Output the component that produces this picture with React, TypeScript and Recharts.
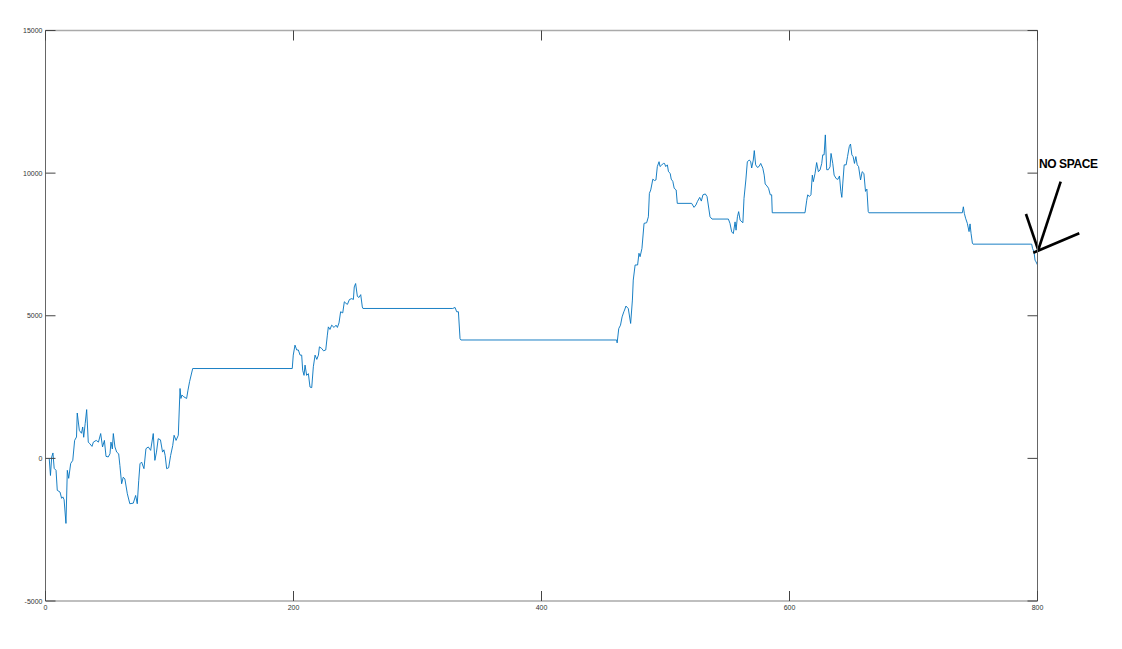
import { LineChart, Line, XAxis, YAxis, ReferenceLine, ReferenceDot } from 'recharts';

const xTicks = [0, 200, 400, 600, 800];
const yTicks = [-5000, 0, 5000, 10000, 15000];

// [step, value]
const series: [number, number][] = [
  [3, 0], [4, -600], [5, 50], [6, 190], [7, -350], [8.5, -420], [9.5, -1120], [11.7, -1180],
  [13, -1400], [14, -1350], [15, -1450], [16.5, -2280], [17.6, -420], [18.7, -700], [20.3, -180],
  [22, -70], [23.5, 630], [25, 750], [25.6, 1590], [27.3, 980], [29, 880], [30, 1100], [30.8, 740],
  [32, 1220], [33.2, 1710], [34.5, 570], [35.8, 510], [37.5, 420], [38.6, 570], [40.9, 630],
  [42.7, 570], [44.5, 870], [46, 400], [47.5, 630], [48.8, 70], [50.6, 50], [52, 160], [52.8, 570],
  [53.9, 330], [54.7, 870], [56, 400], [57.4, 220], [59, 160], [60, -250], [61.4, -890],
  [62.7, -660], [64, -720], [66, -1240], [68, -1590], [70.8, -1570], [72.7, -1300], [74, -1590],
  [75.2, -770], [76.2, -190], [77.5, -130], [79.4, -360], [81, 340], [82.9, 400], [84.8, 280],
  [86.9, 870], [88.2, -70], [89.5, 220], [90.9, 690], [92.7, 650], [94.4, 220], [95.5, 300],
  [96.5, 100], [97.7, -360], [99.3, -330], [100.9, 100], [102.6, 450], [103.7, 810], [105.3, 630],
  [107.1, 810], [108.5, 2450], [109.2, 2100], [110, 2220], [111.5, 2160], [113.8, 2100],
  [114.9, 2390], [116.2, 2690], [118.7, 3150], [199, 3150], [199.8, 3620], [201.2, 3970],
  [202.6, 3800], [203.9, 3800], [205.3, 3620], [206.6, 3620], [207.4, 3090], [208.5, 2910],
  [209.3, 3270], [210.6, 2910], [212, 2970], [213.3, 2500], [214.7, 2480], [216, 3210],
  [217.4, 3620], [218.8, 3470], [220.1, 3620], [220.9, 3910], [222.8, 3850], [224.2, 3770],
  [226, 3800], [227.3, 4320], [228.1, 4610], [229.4, 4520], [230.8, 4670], [232.7, 4590],
  [234.3, 4670], [235.4, 4590], [236.7, 4750], [238, 5140], [239.7, 5100], [241, 5490],
  [242.4, 5430], [243.5, 5400], [245.1, 5570], [247, 5600], [248.3, 5570], [249, 6010],
  [250.1, 6130], [251.5, 5680], [252.8, 5640], [254.2, 5740], [255.5, 5310], [256, 5255],
  [328.4, 5255], [330.3, 5290], [331.6, 5140], [333, 5140], [334.3, 4200], [335, 4150],
  [460.6, 4150], [461, 4050], [462.3, 4550], [463.7, 4670], [465, 4960], [466.4, 5140],
  [467, 5200], [468.1, 5340], [470, 5250], [471.9, 4730], [473.3, 5550], [474, 6250],
  [475.5, 6780], [477.5, 6780], [478.6, 7190], [479.5, 7070], [481, 7360], [482.7, 8240],
  [484.8, 8260], [486.2, 8470], [487, 9290], [488.1, 9410], [489.8, 9790], [491.1, 9740],
  [492.3, 9760], [493.4, 10230], [494.8, 10400], [495.6, 10230], [497, 10290], [498.4, 10340],
  [499.2, 10340], [500.2, 10230], [501.5, 10290], [502.4, 10050], [503.8, 9990], [504.6, 9790],
  [505.9, 9710], [507, 9470], [508.6, 9410], [509.5, 8940], [521.1, 8940], [523, 8800],
  [524.5, 8880], [525.7, 9000], [527.6, 9150], [528.9, 9020], [530.2, 9240], [532.1, 9270],
  [533.5, 9180], [535.9, 8470], [537.5, 8390], [550.7, 8390], [552, 8240], [553.4, 7940],
  [554.7, 7880], [556.1, 8290], [556.9, 8000], [558, 8470], [559, 8650], [560.2, 8350],
  [562.4, 8260], [563.3, 9110], [564.8, 9760], [566, 10400], [567.6, 10460], [568.7, 10400],
  [569.5, 10180], [570.8, 10460], [571.6, 10790], [572.7, 10290], [574.1, 10200], [575.4, 10230],
  [576.8, 10340], [578.5, 10170], [579.6, 9930], [580.4, 9620], [581.8, 9550], [583.1, 9470],
  [584.5, 9240], [585.6, 9240], [586.1, 8610], [612.5, 8610], [613.9, 9050], [614.7, 9240],
  [616, 9180], [617.3, 9240], [618.4, 9930], [619.2, 9700], [620.6, 9990], [621.9, 10370],
  [623.3, 10050], [624.6, 10110], [626, 10340], [626.8, 10640], [627.9, 10640], [628.9, 11340],
  [630, 10120], [631.3, 10120], [632.7, 10220], [633.5, 10690], [634.9, 10340], [636, 9930],
  [637.6, 9810], [639, 9780], [640.3, 9900], [641.4, 9360], [642.2, 9150], [643, 9650],
  [644.1, 10290], [645.7, 10290], [646.8, 10580], [648.2, 10930], [649.2, 11020], [650.3, 10640],
  [651.3, 10580], [652.4, 10340], [653.5, 10580], [654.6, 10290], [655.7, 10230], [657.3, 9760],
  [658.6, 10050], [660, 9990], [661.3, 9360], [662.4, 9440], [663.5, 8650], [664, 8610],
  [739.4, 8610], [740.2, 8820], [741, 8590], [742, 8420], [743.4, 8240], [744.8, 7950],
  [745.6, 8220], [746.4, 7890], [747.5, 7540], [748, 7510], [795.3, 7510], [796, 7360],
  [797.2, 7240], [798, 6950], [798.8, 6890], [800, 6780],
];

// hand-drawn annotation arrows, in data units
const arrows: [number, number, number, number][] = [
  [818.7, 9699, 800.6, 7304],
  [790.7, 8567, 800.6, 7304],
  [833.7, 7890, 796.6, 7210],
];
const noteText = 'NO SPACE';

const data = series.map(([step, value]) => ({ step, value }));

const labelFont = { fontFamily: 'Liberation Sans, Arial, sans-serif', fontSize: 7, fill: '#333' };

const BottomTick = (props: any) => {
  const { x, y, payload } = props;
  return (
    <g>
      <line x1={x} y1={y} x2={x} y2={y - 10} stroke="#444" />
      <text x={x} y={y + 9} textAnchor="middle" {...labelFont}>{payload.value}</text>
    </g>
  );
};

const LeftTick = (props: any) => {
  const { x, y, payload } = props;
  return (
    <g>
      <line x1={x} y1={y} x2={x + 10} y2={y} stroke="#444" />
      <text x={x - 3} y={y + 2.5} textAnchor="end" {...labelFont}>{payload.value}</text>
    </g>
  );
};

const TopTick = (props: any) => {
  const { x, y } = props;
  return <line x1={x} y1={y} x2={x} y2={y + 10} stroke="#444" />;
};

const RightTick = (props: any) => {
  const { x, y } = props;
  return <line x1={x} y1={y} x2={x - 10} y2={y} stroke="#444" />;
};

export default function App() {
  return (
    <LineChart width={1106} height={630} data={data} margin={{ top: 21.5, right: 75.5, left: 0, bottom: 17 }}>
      <XAxis
        dataKey="step" type="number" domain={[0, 800]} ticks={xTicks}
        height={20} tickSize={0} tickMargin={0} tickLine={false}
        axisLine={{ stroke: '#aaaaaa', strokeWidth: 1.5 }} tick={<BottomTick />}
      />
      <XAxis
        xAxisId="top" orientation="top" dataKey="step" type="number" domain={[0, 800]} ticks={xTicks}
        height={1} tickSize={0} tickMargin={0} tickLine={false}
        axisLine={{ stroke: '#aaaaaa', strokeWidth: 1.5 }} tick={<TopTick />}
      />
      <YAxis
        type="number" domain={[-5000, 15000]} ticks={yTicks} width={37.5}
        tickSize={0} tickMargin={0} tickLine={false}
        axisLine={{ stroke: '#666666' }} tick={<LeftTick />}
      />
      <YAxis
        yAxisId="right" orientation="right" type="number" domain={[-5000, 15000]} ticks={yTicks} width={1}
        tickSize={0} tickMargin={0} tickLine={false}
        axisLine={{ stroke: '#666666' }} tick={<RightTick />}
      />
      <Line
        xAxisId="top" yAxisId="right" type="linear" dataKey="value" stroke="none"
        dot={false} activeDot={false} isAnimationActive={false}
      />
      <Line
        type="linear" dataKey="value" stroke="#0072BD" strokeWidth={0.9}
        dot={false} isAnimationActive={false}
      />
      {arrows.map(([x1, y1, x2, y2], i) => (
        <ReferenceLine
          key={i} segment={[{ x: x1, y: y1 }, { x: x2, y: y2 }]}
          stroke="#000" strokeWidth={2.6} ifOverflow="visible"
        />
      ))}
      <ReferenceDot
        x={801.2} y={10179} r={0} ifOverflow="visible"
        shape={(p: any) => (
          <text x={p.cx} y={p.cy} fontFamily="Liberation Sans, Arial, sans-serif" fontWeight="bold" fontSize={12} letterSpacing={-0.4} fill="#000">
            {noteText}
          </text>
        )}
      />
    </LineChart>
  );
}
